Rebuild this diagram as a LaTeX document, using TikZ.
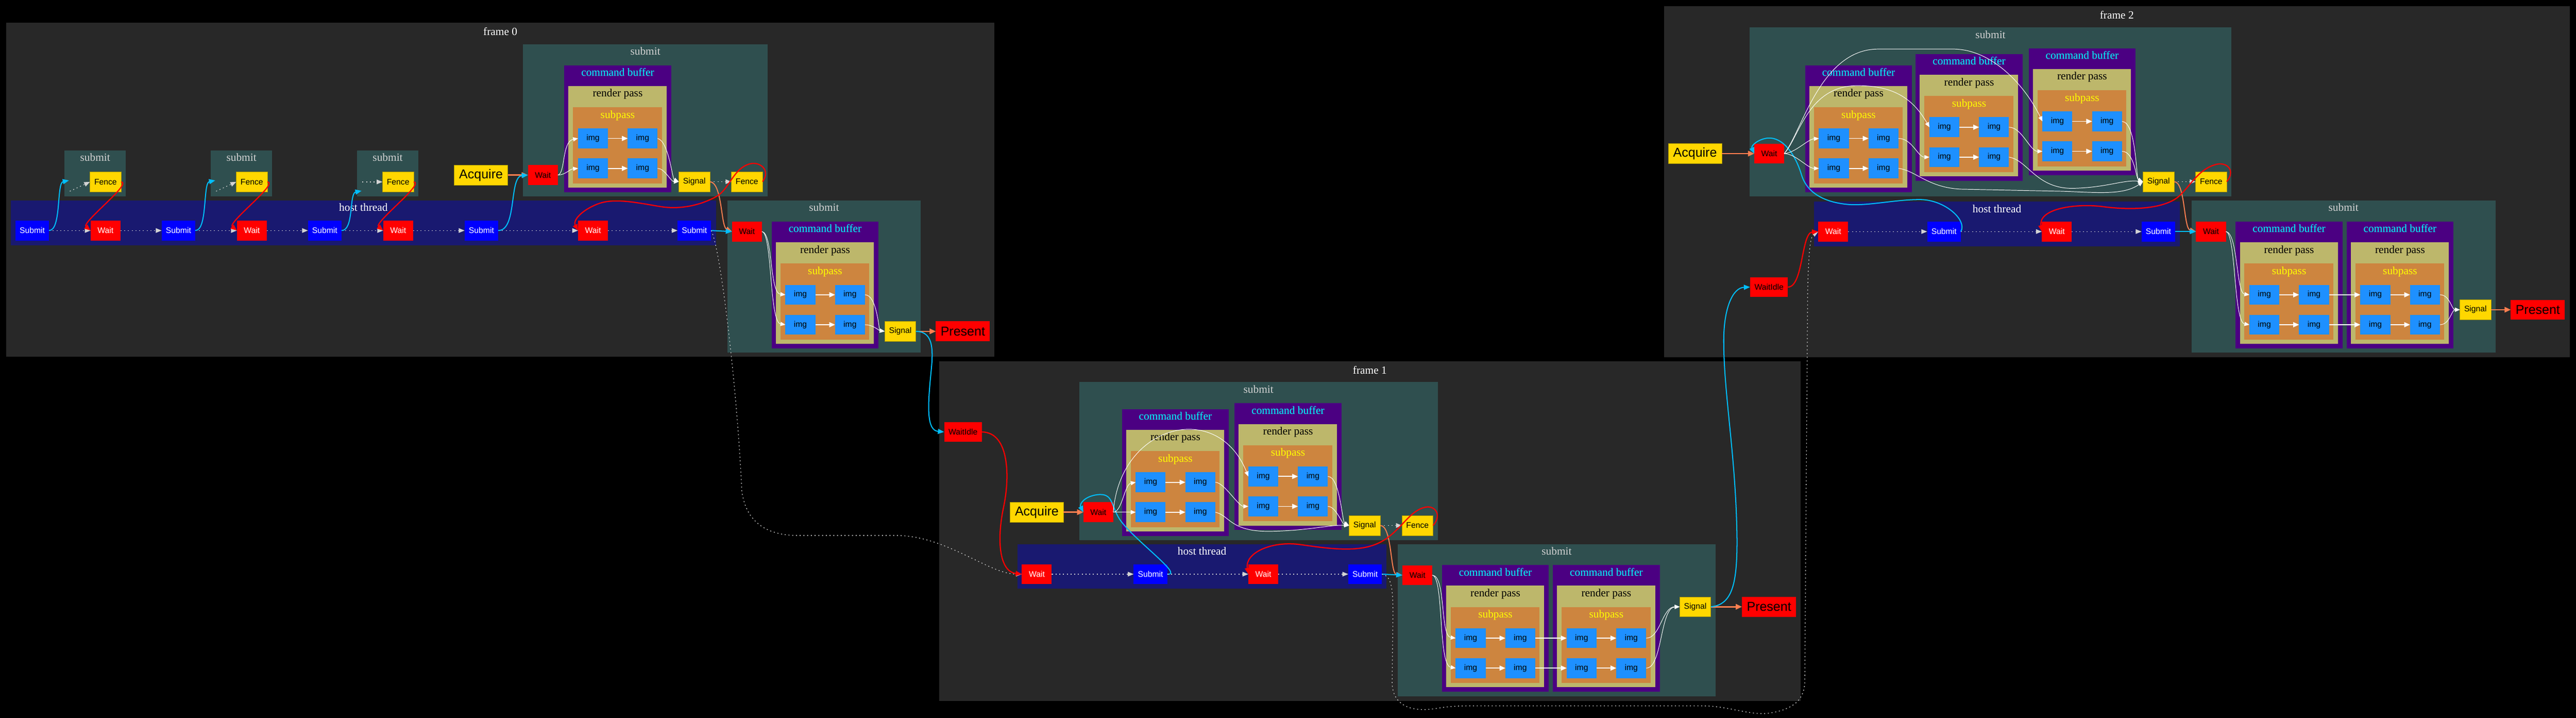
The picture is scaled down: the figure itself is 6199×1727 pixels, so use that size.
\documentclass[tikz,border=0pt]{standalone}
\usepackage{fontspec}
\setmainfont{Liberation Serif}
\newfontfamily\nodefont{Liberation Sans}
\usetikzlibrary{arrows.meta}
\definecolor{framebg}{HTML}{282828}
\definecolor{submitbg}{HTML}{2F4F4F}
\definecolor{hostbg}{HTML}{191970}
\definecolor{cbbg}{HTML}{4B0082}
\definecolor{rpbg}{HTML}{BDB76B}
\definecolor{spbg}{HTML}{CD853F}
\definecolor{imgc}{HTML}{1E90FF}
\definecolor{goldc}{HTML}{FFD700}
\definecolor{goldedge}{HTML}{A89400}
\definecolor{redc}{HTML}{FF0000}
\definecolor{bluec}{HTML}{0000FF}
\definecolor{skyc}{HTML}{00BFFF}
\definecolor{coralc}{HTML}{FF7F50}
\definecolor{lgray}{HTML}{D3D3D3}
\definecolor{cyanc}{HTML}{00FFFF}
\definecolor{yellowc}{HTML}{FFFF00}
\tikzset{
 cl/.style={anchor=base,font=\fontsize{26.5}{30}\selectfont},
 nd/.style={font=\nodefont\fontsize{19.5}{22}\selectfont,minimum height=48pt,inner sep=0pt,outer sep=0pt},
 bignd/.style={font=\nodefont\fontsize{31}{34}\selectfont,minimum height=48pt,inner sep=0pt,outer sep=0pt},
 hsub/.style={nd,fill=bluec,text=white,minimum width=81pt},
 hwait/.style={nd,fill=redc,text=white,minimum width=72pt},
 swait/.style={nd,fill=redc,text=black,minimum width=72pt},
 gnode/.style={nd,fill=goldc,draw=goldedge,line width=0.8pt,text=black,minimum width=75pt},
 imgn/.style={nd,fill=imgc,text=black,minimum width=72pt},
 acq/.style={bignd,fill=goldc,draw=goldedge,line width=0.8pt,text=black,minimum width=129pt},
 pres/.style={bignd,fill=redc,text=black,minimum width=130pt},
 seq/.style={draw=lgray,line width=1.6pt,dash pattern=on 2.5pt off 6.5pt,-{Triangle[length=14pt,width=11pt]}},
 cy/.style={draw=skyc,line width=2.5pt,-{Triangle[length=15pt,width=12pt]}},
 rd/.style={draw=redc,line width=2.8pt,-{Triangle[length=15pt,width=12pt]}},
 cor/.style={draw=coralc,line width=3.2pt,-{Triangle[length=15pt,width=13pt]}},
 cort/.style={draw=coralc,line width=2.4pt,-{Triangle[length=15pt,width=12pt]}},
 wt/.style={draw=white,line width=1.2pt,-{Triangle[length=12pt,width=10pt]}},
 wi/.style={draw=white,line width=2.2pt,-{Triangle[length=14pt,width=12pt]}},
}
% command buffer cluster: name, left x, top y
\newcommand\cbuf[3]{%
 \fill[cbbg] (#2,#3) rectangle ++(257,305);
 \node[cl,text=cyanc] at (#2+128.5,#3+26) {command buffer};
 \fill[rpbg] (#2+10,#3+50) rectangle ++(236,244);
 \node[cl,text=black] at (#2+128.5,#3+76) {render pass};
 \fill[spbg] (#2+21,#3+101) rectangle ++(214,183);
 \node[cl,text=yellowc] at (#2+128.5,#3+127) {subpass};
 \node[imgn] (#1-11) at (#2+69,#3+176) {img};
 \node[imgn] (#1-12) at (#2+188.5,#3+176) {img};
 \node[imgn] (#1-21) at (#2+69,#3+248) {img};
 \node[imgn] (#1-22) at (#2+188.5,#3+248) {img};
 \draw[wi] (#1-11) -- (#1-12);
 \draw[wi] (#1-21) -- (#1-22);
}
\begin{document}
\begin{tikzpicture}[x=1pt,y=-1pt]
\useasboundingbox (0,0) rectangle (6199,1727);
\fill[black] (0,0) rectangle (6199,1727);

%================ FRAME 0 ================
\fill[framebg] (15,55) rectangle (2393,858);
\node[cl,text=white] at (1204,85) {frame 0};
% small submit clusters
\fill[submitbg] (155,362) rectangle (303,472);
\node[cl,text=lgray] at (229,388) {submit};
\node[gnode] (f0a) at (254,437.5) {Fence};
\coordinate (i0a) at (168,460);
\coordinate (ct0a) at (166,434);
\fill[submitbg] (507,362) rectangle (655,472);
\node[cl,text=lgray] at (581,388) {submit};
\node[gnode] (f0b) at (606,437.5) {Fence};
\coordinate (i0b) at (520,460);
\coordinate (ct0b) at (518,434);
\fill[submitbg] (859,362) rectangle (1007,472);
\node[cl,text=lgray] at (933,388) {submit};
\node[gnode] (f0c) at (958,437.5) {Fence};
\coordinate (i0c) at (872,437.5);
\coordinate (ct0c) at (870,459);
% host thread
\fill[hostbg] (26,482) rectangle (1723,590);
\node[cl,text=white] at (874.5,508) {host thread};
\node[hsub] (hs0a) at (77.5,554.5) {Submit};
\node[hwait] (hw0a) at (254,554.5) {Wait};
\node[hsub] (hs0b) at (429.5,554.5) {Submit};
\node[hwait] (hw0b) at (606,554.5) {Wait};
\node[hsub] (hs0c) at (781.5,554.5) {Submit};
\node[hwait] (hw0c) at (958,554.5) {Wait};
\node[hsub] (hs0d) at (1158.5,554.5) {Submit};
\node[hwait] (hw0d) at (1427,554.5) {Wait};
\node[hsub] (hs0e) at (1671,554.5) {Submit};
% big submit
\node[acq] (acq0) at (1157.5,421) {Acquire};
\fill[submitbg] (1259,106) rectangle (1847,472);
\node[cl,text=lgray] at (1553,132) {submit};
\cbuf{c0}{1358}{157}
\node[swait] (w0) at (1306.5,421) {Wait};
\node[gnode] (sig0) at (1671,437) {Signal};
\node[gnode] (fen0) at (1797.5,437) {Fence};
% lower submit
\fill[submitbg] (1750,482) rectangle (2216,848);
\node[cl,text=lgray] at (1983,508) {submit};
\node[swait] (lw0) at (1797.5,557) {Wait};
\cbuf{d0}{1857}{533}
\node[gnode] (lsig0) at (2166.5,797) {Signal};
\node[pres] (pres0) at (2317,797) {Present};

%================ FRAME 1 ================
\fill[framebg] (2260,869) rectangle (4333,1686);
\node[cl,text=white] at (3296.5,899) {frame 1};
\node[swait,minimum width=91pt] (wi1) at (2317.5,1039) {WaitIdle};
\node[acq] (acq1) at (2495,1232) {Acquire};
\fill[submitbg] (2597,919) rectangle (3460,1299);
\node[cl,text=lgray] at (3028.5,945) {submit};
\node[swait] (w1) at (2643,1232) {Wait};
\cbuf{c1}{2700}{984}
\cbuf{e1}{2971}{970}
\node[gnode] (sig1) at (3284,1264) {Signal};
\node[gnode] (fen1) at (3411,1264) {Fence};
\fill[hostbg] (2449,1309) rectangle (3336,1416);
\node[cl,text=white] at (2892.5,1335) {host thread};
\node[hwait] (hw1a) at (2495,1381) {Wait};
\node[hsub] (hs1b) at (2768.5,1381) {Submit};
\node[hwait] (hw1c) at (3040,1381) {Wait};
\node[hsub] (hs1d) at (3285,1381) {Submit};
\fill[submitbg] (3364,1309) rectangle (4128,1675);
\node[cl,text=lgray] at (3746,1335) {submit};
\node[swait] (lw1) at (3411,1383.5) {Wait};
\cbuf{d1}{3470}{1359}
\cbuf{g1}{3737}{1359}
\node[gnode] (lsig1) at (4079.5,1459.5) {Signal};
\node[pres] (pres1) at (4257,1459.5) {Present};

%================ FRAME 2 ================
\fill[framebg] (4004,15) rectangle (6184,859);
\node[cl,text=white] at (5094,45) {frame 2};
\node[acq] (acq2) at (4079,369.5) {Acquire};
\fill[submitbg] (4210,66) rectangle (5370,472);
\node[cl,text=lgray] at (4790,92) {submit};
\node[swait] (w2) at (4257.5,369.5) {Wait};
\cbuf{c2}{4344}{157}
\cbuf{e2}{4610}{130}
\cbuf{h2}{4882}{116}
\node[gnode] (sig2) at (5194.5,437) {Signal};
\node[gnode] (fen2) at (5321,437) {Fence};
\node[swait,minimum width=91pt] (wi2) at (4257,690.5) {WaitIdle};
\fill[hostbg] (4365,485) rectangle (5246,592);
\node[cl,text=white] at (4805.5,511) {host thread};
\node[hwait] (hw2a) at (4411.5,557) {Wait};
\node[hsub] (hs2b) at (4678,557) {Submit};
\node[hwait] (hw2c) at (4949.5,557) {Wait};
\node[hsub] (hs2d) at (5194,557) {Submit};
\fill[submitbg] (5274,482) rectangle (6005,848);
\node[cl,text=lgray] at (5639.5,508) {submit};
\node[swait] (lw2) at (5320.5,557) {Wait};
\cbuf{d2}{5380}{533}
\cbuf{g2}{5647}{533}
\node[gnode] (lsig2) at (5957,745) {Signal};
\node[pres] (pres2) at (6107,745) {Present};

%================ EDGES FRAME 0 ================
\draw[seq] (hs0a) -- (hw0a);
\draw[seq] (hw0a) -- (hs0b);
\draw[seq] (hs0b) -- (hw0b);
\draw[seq] (hw0b) -- (hs0c);
\draw[seq] (hs0c) -- (hw0c);
\draw[seq] (hw0c) -- (hs0d);
\draw[seq] (hs0d) -- (hw0d);
\draw[seq] (hw0d) -- (hs0e);
\draw[seq] (i0a) -- (f0a.west);
\draw[seq] (i0b) -- (f0b.west);
\draw[seq] (i0c) -- (f0c.west);
\draw[cy] (hs0a.east) .. controls +(30,0) and +(-30,6) .. (ct0a);
\draw[cy] (hs0b.east) .. controls +(30,0) and +(-30,6) .. (ct0b);
\draw[cy] (hs0c.east) .. controls +(30,0) and +(-30,6) .. (ct0c);
\draw[rd] (f0a.east) .. controls +(28,3) and +(-23,-19) .. (hw0a.west);
\draw[rd] (f0b.east) .. controls +(28,3) and +(-23,-19) .. (hw0b.west);
\draw[rd] (f0c.east) .. controls +(28,3) and +(-23,-19) .. (hw0c.west);
\draw[cor] (acq0) -- (w0);
\draw[cy] (hs0d.east) .. controls +(46,0) and +(-46,4) .. (w0.west);
\draw[wt] (w0.east) .. controls +(18,-3) and +(-39,7) .. (c0-11.west);
\draw[wt] (w0.east) .. controls +(18,0) and +(-21,2) .. (c0-21.west);
\draw[wt] (c0-12.east) .. controls +(27,7) and +(-16,-7) .. (sig0.west);
\draw[wt] (c0-22.east) .. controls +(17,0) and +(-19,0) .. (sig0.west);
\draw[seq] (sig0) -- (fen0);
\draw[cort] (sig0.east) .. controls +(30,3) and +(-27,-12) .. (lw0.west);
\draw[rd] (fen0.east) .. controls (1855,410) and (1830,388) .. (1805,394)
  .. controls (1765,404) and (1755,455) .. (1725,472)
  .. controls (1690,492) and (1640,505) .. (1590,497)
  .. controls (1540,489) and (1480,475) .. (1440,490)
  .. controls (1400,505) and (1378,530) .. (hw0d.west);
\draw[cy] (hs0e.east) -- (lw0.west);
\draw[seq] (hs0e.east) .. controls (1735,600) and (1775,950) .. (1785,1180)
  .. controls (1795,1260) and (1850,1288) .. (1920,1288) -- (2160,1288)
  .. controls (2280,1290) and (2380,1381) .. (hw1a.west);
\draw[wt] (lw0.east) .. controls +(27,3) and +(-39,-4) .. (d0-11.west);
\draw[wt] (lw0.east) .. controls +(25,3) and +(-39,-6) .. (d0-21.west);
\draw[wt] (d0-12.east) .. controls +(29,0) and +(-14,-2) .. (lsig0.west);
\draw[wt] (d0-22.east) .. controls +(19,0) and +(-14,-2) .. (lsig0.west);
\draw[cor] (lsig0) -- (pres0);
\draw[cy] (lsig0.east) .. controls (2250,797) and (2245,850) .. (2240,900)
  .. controls (2232,980) and (2230,1035) .. (wi1.west);

%================ EDGES FRAME 1 ================
\draw[rd] (wi1.east) .. controls (2430,1040) and (2430,1150) .. (2415,1220)
  .. controls (2398,1300) and (2405,1375) .. (hw1a.west);
\draw[cor] (acq1) -- (w1);
\draw[cy] (hs1b.east) .. controls (2850,1385) and (2730,1300) .. (2695,1250)
  .. controls (2672,1215) and (2680,1185) .. (2640,1190)
  .. controls (2610,1194) and (2597,1212) .. (w1.west);
\draw[wt] (w1.east) .. controls +(21,0) and +(-27,5) .. (c1-11.west);
\draw[wt] (w1.east) -- (c1-21.west);
\draw[wt] (w1.east) .. controls (2695,1020) and (2930,960) .. (e1-11.west);
\draw[wt] (c1-12.east) .. controls +(21,0) and +(-24,0) .. (e1-21.west);
\draw[wt] (c1-22.east) .. controls (2960,1240) and (2960,1280) .. (3060,1278)
  .. controls (3150,1276) and (3200,1262) .. (sig1.west);
\draw[wt] (e1-12.east) .. controls +(29,0) and +(-17,-9) .. (sig1.west);
\draw[wt] (e1-22.east) .. controls +(19,0) and +(-17,-4) .. (sig1.west);
\draw[seq] (sig1) -- (fen1);
\draw[cort] (sig1.east) .. controls +(29,0) and +(-30,-3) .. (lw1.west);
\draw[rd] (fen1.east) .. controls (3470,1240) and (3455,1215) .. (3430,1220)
  .. controls (3390,1228) and (3370,1280) .. (3320,1305)
  .. controls (3270,1330) and (3200,1320) .. (3130,1310)
  .. controls (3060,1300) and (2995,1330) .. (hw1c.west);
\draw[seq] (hw1a) -- (hs1b);
\draw[seq] (hs1b) -- (hw1c);
\draw[seq] (hw1c) -- (hs1d);
\draw[cy] (hs1d.east) -- (lw1.west);
\draw[seq] (hs1d.east) .. controls (3350,1385) and (3352,1420) .. (3352,1480) -- (3350,1640)
  .. controls (3350,1700) and (3400,1712) .. (3450,1705)
  .. controls (3480,1700) and (3500,1698) .. (3530,1698) -- (4100,1698)
  .. controls (4160,1698) and (4210,1722) .. (4260,1715)
  .. controls (4320,1705) and (4342,1680) .. (4343,1640) -- (4350,700)
  .. controls (4352,620) and (4355,570) .. (hw2a.west);
\draw[wt] (lw1.east) .. controls +(33,2) and +(-38,-5) .. (d1-11.west);
\draw[wt] (lw1.east) .. controls +(28,6) and +(-43,-7) .. (d1-21.west);
\draw[wi] (d1-12) -- (g1-11);
\draw[wi] (d1-22) -- (g1-21);
\draw[wt] (g1-12.east) .. controls +(34,0) and +(-42,0) .. (lsig1.west);
\draw[wt] (g1-22.east) .. controls +(39,0) and +(-47,2) .. (lsig1.west);
\draw[cor] (lsig1) -- (pres1);
\draw[cy] (lsig1.east) .. controls (4170,1455) and (4180,1400) .. (4180,1300)
  .. controls (4178,1100) and (4148,950) .. (4148,820)
  .. controls (4148,740) and (4170,692) .. (wi2.west);

%================ EDGES FRAME 2 ================
\draw[rd] (wi2.east) .. controls +(37,0) and +(-41,3) .. (hw2a.west);
\draw[cor] (acq2) -- (w2);
\draw[cy] (hs2b.east) .. controls (4735,530) and (4680,480) .. (4620,480)
  .. controls (4560,480) and (4500,495) .. (4450,492)
  .. controls (4400,488) and (4350,470) .. (4335,420)
  .. controls (4320,370) and (4290,330) .. (4255,332)
  .. controls (4232,334) and (4213,350) .. (w2.west);
\draw[wt] (w2.east) .. controls +(27,-2) and +(-27,2) .. (c2-11.west);
\draw[wt] (w2.east) .. controls +(27,0) and +(-27,0) .. (c2-21.west);
\draw[wt] (w2.east) .. controls (4330,330) and (4350,206) .. (4470,206)
  .. controls (4560,206) and (4605,240) .. (e2-11.west);
\draw[wt] (w2.east) .. controls (4335,320) and (4380,118) .. (4520,118) -- (4700,118)
  .. controls (4790,118) and (4870,200) .. (h2-11.west);
\draw[wt] (c2-12.east) .. controls +(33,0) and +(-28,0) .. (e2-21.west);
\draw[wt] (c2-22.east) .. controls (4610,410) and (4640,452) .. (4720,455) -- (4960,460)
  .. controls (5050,463) and (5110,470) .. (sig2.west);
\draw[wt] (e2-12.east) .. controls +(31,0) and +(-30,0) .. (h2-21.west);
\draw[wt] (e2-22.east) .. controls (4880,385) and (4900,455) .. (4990,453)
  .. controls (5070,451) and (5110,432) .. (sig2.west);
\draw[wt] (h2-12.east) .. controls +(35,2) and +(-17,-7) .. (sig2.west);
\draw[wt] (h2-22.east) .. controls +(30,0) and +(-17,-7) .. (sig2.west);
\draw[seq] (sig2) -- (fen2);
\draw[cort] (sig2.east) .. controls +(27,0) and +(-30,-7) .. (lw2.west);
\draw[rd] (fen2.east) .. controls (5380,410) and (5360,390) .. (5335,395)
  .. controls (5290,405) and (5270,450) .. (5240,475)
  .. controls (5200,505) and (5120,505) .. (5060,497)
  .. controls (5000,489) and (4905,500) .. (hw2c.west);
\draw[seq] (hw2a) -- (hs2b);
\draw[seq] (hs2b) -- (hw2c);
\draw[seq] (hw2c) -- (hs2d);
\draw[cy] (hs2d.east) -- (lw2.west);
\draw[wt] (lw2.east) .. controls +(29,3) and +(-32,-4) .. (d2-11.west);
\draw[wt] (lw2.east) .. controls +(24,3) and +(-38,-6) .. (d2-21.west);
\draw[wi] (d2-12) -- (g2-11);
\draw[wi] (d2-22) -- (g2-21);
\draw[wt] (g2-12.east) .. controls +(24,0) and +(-20,0) .. (lsig2.west);
\draw[wt] (g2-22.east) .. controls +(24,0) and +(-20,0) .. (lsig2.west);
\draw[cor] (lsig2) -- (pres2);
\end{tikzpicture}
\end{document}
